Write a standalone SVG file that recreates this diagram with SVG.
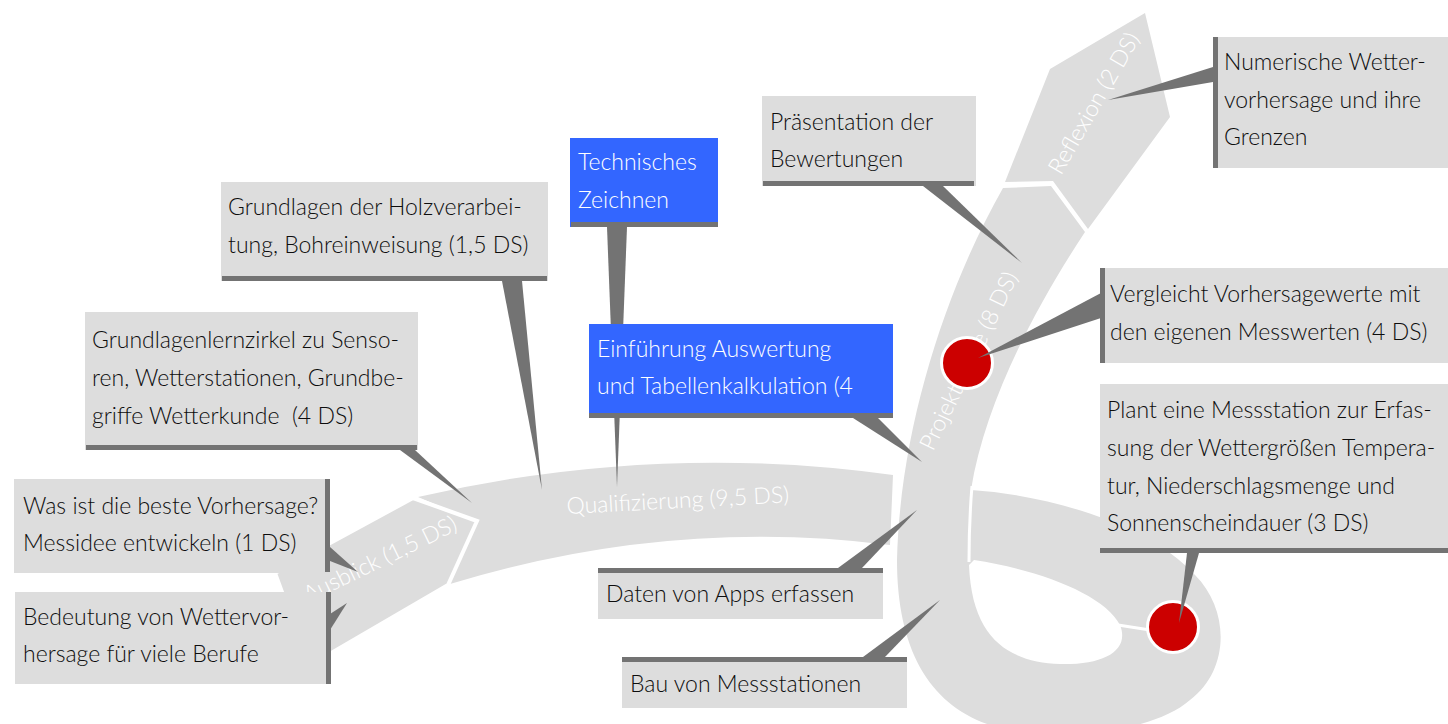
<svg xmlns="http://www.w3.org/2000/svg" width="1448" height="724" viewBox="0 0 1448 724">
<style>
.band{fill:#dddddd}
.gap{fill:none;stroke:#ffffff;stroke-width:4;stroke-linejoin:miter}
.phase{font-family:Lato,"Open Sans","Liberation Sans",sans-serif;font-weight:300;font-size:23px;fill:#ffffff}
.box{fill:#dddddd}
.blue{fill:#3366ff}
.bar{fill:#737373}
.ptr{fill:#737373}
.t{font-family:Lato,"Open Sans","Liberation Sans",sans-serif;font-weight:300;font-size:23px;fill:#0d0d0d}
.tw{fill:#ffffff}
.dot{fill:#cc0000;stroke:#ffffff;stroke-width:3}
</style>
<rect width="1448" height="724" fill="#ffffff"/>
<g id="ribbon">
  <path id="qualifizierung" class="band" d="M418,497 Q655,442 893,475 L890,545 Q670,517 450,584 L476,522 Z"/>
  <polygon id="einblick" class="band gap" style="fill:#dddddd" points="275,573 413,498 477,521 448,585 309,666"/>
  <path id="projektphase" class="band" fill-rule="evenodd" d="M1003,188 L1051,186 L1085,232 C1040,300 985,400 971,490 C1050,495 1150,525 1195,575 C1230,610 1230,670 1190,700 C1150,735 1050,742 990,725 C930,705 897,650 897,560 C900,430 945,290 1003,188 Z M974,560 C1040,570 1105,595 1120,625 C1130,650 1105,665 1060,664 C1010,662 972,640 969,565 Z"/>
  <polygon id="reflexion" class="band" points="1005,182 1053,181 1088,229 1170,117 1145,13 1050,69"/>
  <path d="M972,486 C970,510 969,540 969,562" fill="none" stroke="#ffffff" stroke-width="3"/>
  <line x1="1118" y1="625" x2="1150" y2="630" stroke="#ffffff" stroke-width="3"/>
  <text class="phase" transform="translate(308,603) rotate(-26)">Ausblick (1,5 DS)</text>
  <text class="phase" transform="translate(567,514) rotate(-3)">Qualifizierung (9,5 DS)</text>
  <text class="phase" transform="translate(933,452) rotate(-64)">Projektphase (8 DS)</text>
  <text class="phase" transform="translate(1061,176) rotate(-60)">Reflexion (2 DS)</text>
</g>
<g id="markers">
  <circle class="dot" cx="967" cy="363" r="25.5"/>
  <circle class="dot" cx="1173" cy="627" r="25.5"/>
</g>
<g id="connectors">
  <polygon class="ptr" points="502,281 522,281 542,490"/>
  <polygon class="ptr" points="607,227 627,227 617,487"/>
  <polygon class="ptr" points="853,418 878,418 922,462"/>
  <polygon class="ptr" points="400,450 415,450 472,503"/>
  <polygon class="ptr" points="330,547 330,561 358,572"/>
  <polygon class="ptr" points="330,614 330,630 347,603"/>
  <polygon class="ptr" points="838,568 862,568 917,510"/>
  <polygon class="ptr" points="863,657 885,657 940,600"/>
  <polygon class="ptr" points="923,186 943,186 1022,263"/>
  <polygon class="ptr" points="1213,67 1213,82 1108,100"/>
  <polygon class="ptr" points="1101,293 1101,318 978,358"/>
  <polygon class="ptr" points="1187,553 1199,553 1179,623"/>
</g>
<g id="node-holz">
  <rect class="box" x="221" y="182" width="327" height="99"/>
  <rect class="bar" x="222" y="276" width="325" height="5"/>
  <text class="t" x="228" y="215">Grundlagen der Holzverarbei-<tspan x="228" dy="38">tung, Bohreinweisung (1,5 DS)</tspan></text>
</g>
<g id="node-technisches">
  <rect class="blue" x="570" y="138" width="148" height="89"/>
  <rect class="bar" x="571" y="222" width="147" height="5"/>
  <text class="t tw" x="578" y="170">Technisches<tspan x="578" dy="38">Zeichnen</tspan></text>
</g>
<g id="node-einfuehrung">
  <rect class="blue" x="589" y="324" width="304" height="94"/>
  <rect class="bar" x="589" y="413" width="304" height="5"/>
  <text class="t tw" x="597" y="357">Einführung Auswertung<tspan x="597" dy="37">und Tabellenkalkulation (4</tspan></text>
</g>
<g id="node-lernzirkel">
  <rect class="box" x="85" y="312" width="333" height="138"/>
  <rect class="bar" x="86" y="445" width="331" height="5"/>
  <text class="t" x="92" y="348">Grundlagenlernzirkel zu Senso-<tspan x="92" dy="38">ren, Wetterstationen, Grundbe-</tspan><tspan x="92" dy="38">griffe Wetterkunde&#160; (4 DS)</tspan></text>
</g>
<g id="node-wasist">
  <rect class="box" x="14" y="479" width="316" height="94"/>
  <rect class="bar" x="325" y="479" width="5" height="93"/>
  <text class="t" x="23" y="514">Was ist die beste Vorhersage?<tspan x="23" dy="37">Messidee entwickeln (1 DS)</tspan></text>
</g>
<g id="node-bedeutung">
  <rect class="box" x="15" y="592" width="316" height="92"/>
  <rect class="bar" x="326" y="592" width="5" height="92"/>
  <text class="t" x="23" y="625">Bedeutung von Wettervor-<tspan x="23" dy="37">hersage für viele Berufe</tspan></text>
</g>
<g id="node-daten">
  <rect class="box" x="598" y="568" width="285" height="51"/>
  <rect class="bar" x="598" y="568" width="285" height="5"/>
  <text class="t" x="606" y="602">Daten von Apps erfassen</text>
</g>
<g id="node-bau">
  <rect class="box" x="622" y="657" width="285" height="51"/>
  <rect class="bar" x="622" y="657" width="285" height="5"/>
  <text class="t" x="630" y="692">Bau von Messstationen</text>
</g>
<g id="node-praesentation">
  <rect class="box" x="762" y="96" width="214" height="90"/>
  <rect class="bar" x="763" y="181" width="211" height="5"/>
  <text class="t" x="770" y="130">Präsentation der<tspan x="770" dy="37">Bewertungen</tspan></text>
</g>
<g id="node-numerische">
  <rect class="box" x="1213" y="37" width="235" height="131"/>
  <rect class="bar" x="1213" y="37" width="5" height="131"/>
  <text class="t" x="1224" y="70">Numerische Wetter-<tspan x="1224" dy="38">vorhersage und ihre</tspan><tspan x="1224" dy="37">Grenzen</tspan></text>
</g>
<g id="node-vergleicht">
  <rect class="box" x="1100" y="268" width="348" height="95"/>
  <rect class="bar" x="1100" y="268" width="5" height="95"/>
  <text class="t" x="1110" y="302">Vergleicht Vorhersagewerte mit<tspan x="1110" dy="38">den eigenen Messwerten (4 DS)</tspan></text>
</g>
<g id="node-plant">
  <rect class="box" x="1100" y="384" width="348" height="169"/>
  <rect class="bar" x="1100" y="548" width="348" height="5"/>
  <text class="t" x="1107" y="418">Plant eine Messstation zur Erfas-<tspan x="1107" dy="37.5">sung der Wettergrößen Tempera-</tspan><tspan x="1107" dy="38">tur, Niederschlagsmenge und</tspan><tspan x="1107" dy="37.5">Sonnenscheindauer (3 DS)</tspan></text>
</g>
</svg>
